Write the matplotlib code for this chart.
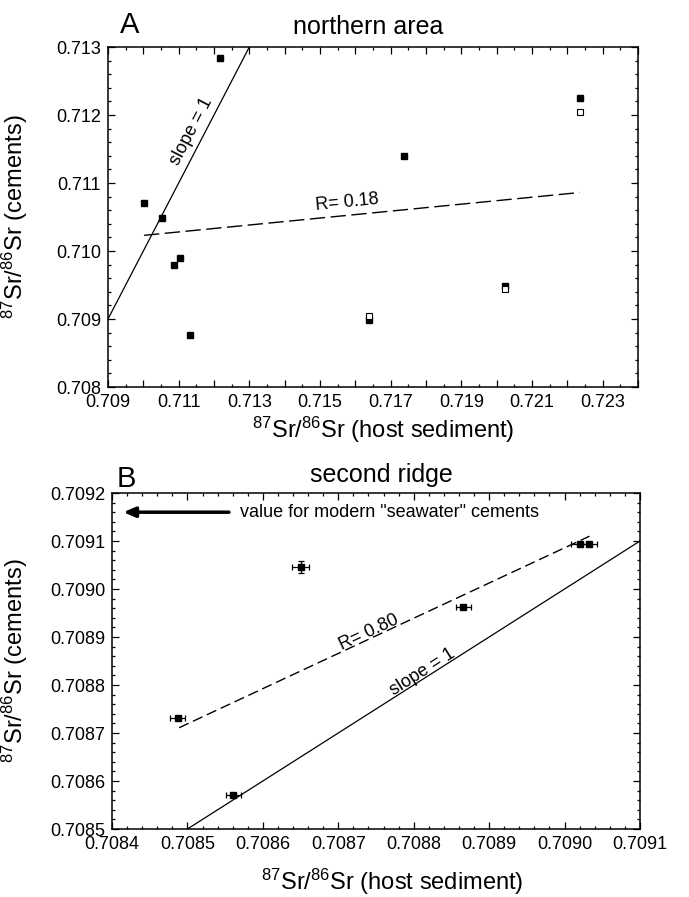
import numpy as np
import matplotlib
matplotlib.use('Agg')
import matplotlib.pyplot as plt
from matplotlib.ticker import MultipleLocator, FuncFormatter

plt.rcParams['font.family'] = ['Liberation Sans', 'DejaVu Sans']
plt.rcParams['mathtext.fontset'] = 'custom'
plt.rcParams['mathtext.rm'] = 'Liberation Sans'
plt.rcParams['mathtext.default'] = 'regular'

# Panel A - northern area
host_a = [0.71217, 0.71002, 0.71053, 0.71088, 0.71103, 0.71131, 0.71739, 0.71640, 0.72024, 0.72235]
cem_a = [0.71284, 0.71071, 0.71049, 0.70980, 0.70990, 0.70876, 0.71139, 0.70899, 0.70949, 0.71225]
host_a_open = [0.71640, 0.72024, 0.72235]
cem_a_open = [0.70905, 0.70944, 0.71204]
fit_a_x = [0.71002, 0.72235]
fit_a_y = [0.71023, 0.71086]
xlabels_a = [0.709, 0.711, 0.713, 0.715, 0.717, 0.719, 0.721, 0.723]

# Panel B - second ridge
host_b = [0.708487, 0.708561, 0.708650, 0.708866, 0.709021, 0.709033]
cem_b = [0.708731, 0.708571, 0.709046, 0.708963, 0.709094, 0.709094]
host_b_err = [0.00001, 0.00001, 0.000011, 0.00001, 0.000012, 0.00001]
cem_b_err = [0.000003, 0.000003, 0.000013, 0.000003, 0.000003, 0.000003]
fit_b_x = [0.708489, 0.709033]
fit_b_y = [0.708711, 0.709110]
seawater_value = 0.70916

W, H = 689, 897
fig = plt.figure(figsize=(W / 100, H / 100), dpi=100)


def px_axes(left, top, right, bottom):
    return fig.add_axes([left / W, 1 - bottom / H, (right - left) / W, (bottom - top) / H])


def style_axes(ax):
    for s in ax.spines.values():
        s.set_linewidth(1.1)
    ax.tick_params(which='both', direction='in', top=True, right=True,
                   labelsize=13, width=0.9, pad=5)
    ax.tick_params(which='major', length=5)
    ax.tick_params(which='minor', length=2.5)


sup = r'$^{87}$Sr/$^{86}$Sr'

# ---------------- A ----------------
ax = px_axes(108, 47, 638, 387)
ax.set_xlim(0.709, 0.724)
ax.set_ylim(0.708, 0.713)
style_axes(ax)
ax.xaxis.set_major_locator(MultipleLocator(0.001))
ax.xaxis.set_minor_locator(MultipleLocator(0.0005))
ax.xaxis.set_major_formatter(FuncFormatter(
    lambda v, p: '%.3f' % v if any(abs(v - t) < 1e-7 for t in xlabels_a) else ''))
ax.yaxis.set_major_locator(MultipleLocator(0.001))
ax.yaxis.set_minor_locator(MultipleLocator(0.0002))
ax.yaxis.set_major_formatter(FuncFormatter(lambda v, p: '%.3f' % v))

ax.plot([0.709, 0.713], [0.709, 0.713], color='black', lw=0.9)
ax.plot(fit_a_x, fit_a_y, color='black', lw=1.0, ls=(0, (11, 4)))
ax.plot(host_a, cem_a, ls='none', marker='s', ms=5, mfc='black', mec='black')
ax.plot(host_a_open, cem_a_open, ls='none', marker='s', ms=5, mfc='white', mec='black', mew=0.8)

ax.text(0.711363, 0.711757, 'slope = 1', rotation=45, transform_rotates_text=True,
        rotation_mode='anchor', ha='center', va='center', fontsize=13)
ang = np.degrees(np.arctan2(fit_a_y[1] - fit_a_y[0], fit_a_x[1] - fit_a_x[0]))
ax.text(0.71576, 0.71072, 'R= 0.18', rotation=ang, transform_rotates_text=True,
        rotation_mode='anchor', ha='center', va='center', fontsize=13)

ax.text(0.023, 1.041, 'A', transform=ax.transAxes, fontsize=21, va='baseline', ha='left')
ax.text(0.49, 1.038, 'northern area', transform=ax.transAxes, fontsize=18,
        va='baseline', ha='center')
ax.text(0.52, -0.15, sup + ' (host sediment)', transform=ax.transAxes, fontsize=17,
        va='baseline', ha='center')
ax.text(-0.175, 0.5, sup + ' (cements)', transform=ax.transAxes, fontsize=17,
        rotation=90, va='center', ha='center')

# ---------------- B ----------------
bx = px_axes(112, 493, 640, 829)
bx.set_xlim(0.7084, 0.7091)
bx.set_ylim(0.7085, 0.7092)
style_axes(bx)
bx.xaxis.set_major_locator(MultipleLocator(0.0001))
bx.xaxis.set_minor_locator(MultipleLocator(0.00002))
bx.xaxis.set_major_formatter(FuncFormatter(lambda v, p: '%.4f' % v))
bx.yaxis.set_major_locator(MultipleLocator(0.0001))
bx.yaxis.set_minor_locator(MultipleLocator(0.00002))
bx.yaxis.set_major_formatter(FuncFormatter(lambda v, p: '%.4f' % v))

bx.plot([0.7085, 0.7091], [0.7085, 0.7091], color='black', lw=0.9)
bx.plot(fit_b_x, fit_b_y, color='black', lw=1.0, ls=(0, (7.5, 3.5)))
bx.errorbar(host_b, cem_b, xerr=host_b_err, yerr=cem_b_err, fmt='s', ms=5,
            mfc='black', mec='black', ecolor='black', elinewidth=0.9, capsize=2, capthick=0.9)

ang_b = np.degrees(np.arctan2(fit_b_y[1] - fit_b_y[0], fit_b_x[1] - fit_b_x[0]))
bx.text(0.70874, 0.70891, 'R= 0.80', rotation=ang_b, transform_rotates_text=True,
        rotation_mode='anchor', ha='center', va='center', fontsize=13)
bx.text(0.708812, 0.708827, 'slope = 1', rotation=45, transform_rotates_text=True,
        rotation_mode='anchor', ha='center', va='center', fontsize=13)

bx.annotate('', xy=(0.708415, seawater_value), xytext=(0.708555, seawater_value),
            arrowprops=dict(arrowstyle='-|>,head_length=0.7,head_width=0.3',
                            lw=2.5, color='black', shrinkA=0, shrinkB=0))
bx.text(0.70857, seawater_value, 'value for modern "seawater" cements', fontsize=13,
        va='center', ha='left')

bx.text(0.008, 1.018, 'B', transform=bx.transAxes, fontsize=21, va='baseline', ha='left')
bx.text(0.51, 1.033, 'second ridge', transform=bx.transAxes, fontsize=18,
        va='baseline', ha='center')
bx.text(0.53, -0.18, sup + ' (host sediment)', transform=bx.transAxes, fontsize=17,
        va='baseline', ha='center')
bx.text(-0.184, 0.5, sup + ' (cements)', transform=bx.transAxes, fontsize=17,
        rotation=90, va='center', ha='center')

fig.savefig('out.png', dpi=100)
